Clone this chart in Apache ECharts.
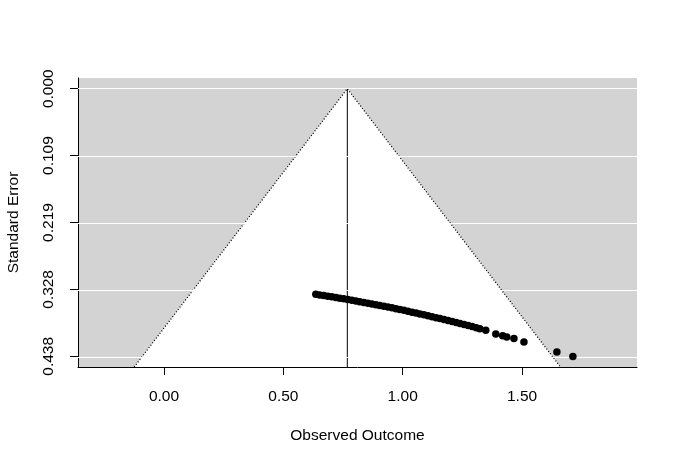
<!doctype html>
<html>
<head>
<meta charset="utf-8">
<title>Funnel Plot</title>
<script src="https://cdn.jsdelivr.net/npm/echarts@6/dist/echarts.min.js"></script>
<style>
  html, body { margin: 0; padding: 0; background: #fff; }
  #main { width: 678px; height: 465px; }
</style>
</head>
<body>
<div id="main"></div>
<script>
// observed outcomes (x) and their standard errors (y)
var obsX = [0.636, 0.652, 0.669, 0.686, 0.703, 0.720, 0.736, 0.753, 0.770, 0.787,
            0.804, 0.820, 0.837, 0.854, 0.871, 0.888, 0.904, 0.921, 0.938, 0.955,
            0.972, 0.988, 1.005, 1.022, 1.039, 1.056, 1.072, 1.089, 1.106, 1.123,
            1.140, 1.156, 1.173, 1.190, 1.207, 1.224, 1.240, 1.257, 1.274, 1.291,
            1.308, 1.323, 1.348, 1.390, 1.419, 1.436, 1.466, 1.508, 1.646, 1.713];
var obsSE = [0.3366, 0.3376, 0.3386, 0.3397, 0.3407, 0.3418, 0.3429, 0.3440, 0.3451, 0.3462,
             0.3474, 0.3486, 0.3498, 0.3510, 0.3522, 0.3535, 0.3548, 0.3561, 0.3574, 0.3587,
             0.3601, 0.3614, 0.3628, 0.3642, 0.3657, 0.3671, 0.3686, 0.3701, 0.3716, 0.3731,
             0.3747, 0.3762, 0.3778, 0.3794, 0.3810, 0.3827, 0.3843, 0.3860, 0.3877, 0.3894,
             0.3911, 0.3930, 0.3955, 0.4016, 0.4043, 0.4062, 0.4090, 0.4145, 0.4308, 0.4384];

// pooled estimate and funnel limits at the bottom of the plot
var estimate = 0.768;
var seBottom = 0.4555;
var funnelLow = -0.125;
var funnelHigh = 1.661;

// axis ticks
var xTicks = [0, 0.5, 1, 1.5];
var xTickLabels = ['0.00', '0.50', '1.00', '1.50'];
var yTicks = [0, 0.1095, 0.219, 0.3285, 0.438];
var yTickLabels = ['0.000', '0.109', '0.219', '0.328', '0.438'];

var points = [];
for (var i = 0; i < obsX.length; i++) {
    points.push([obsX[i], obsSE[i]]);
}

var funnelTri = [[estimate, 0], [funnelLow, seBottom], [funnelHigh, seBottom]];

var font = 'Liberation Sans, Arial, sans-serif';
var myChart = echarts.init(document.getElementById('main'), null, {renderer: 'canvas'});

var option = {
    animation: false,
    backgroundColor: '#fff',
    grid: {
        left: 78, top: 78, right: 41, bottom: 98,
        outerBoundsMode: 'none',
        containLabel: false,
        show: true, backgroundColor: '#d3d3d3', borderWidth: 0
    },
    xAxis: {
        type: 'value',
        min: -0.3603, max: 1.9816,
        name: 'Observed Outcome',
        nameLocation: 'middle',
        nameGap: 61,
        nameTextStyle: {color: '#000', fontSize: 15.5, fontFamily: font},
        axisLine: {show: true, onZero: false, lineStyle: {color: '#000', width: 1}},
        axisTick: {show: true, length: 8, customValues: xTicks, lineStyle: {color: '#000'}},
        axisLabel: {
            color: '#000', fontSize: 15.5, fontFamily: font, margin: 22,
            customValues: xTicks,
            formatter: function (v) {
                var k = xTicks.indexOf(v);
                return k >= 0 ? xTickLabels[k] : '';
            }
        },
        splitLine: {show: false}
    },
    yAxis: {
        type: 'value',
        inverse: true,
        min: -0.0175, max: seBottom,
        name: 'Standard Error',
        nameLocation: 'middle',
        nameGap: 56,
        nameRotate: 90,
        nameTextStyle: {color: '#000', fontSize: 15.5, fontFamily: font},
        axisLine: {show: true, onZero: false, lineStyle: {color: '#000', width: 1}},
        axisTick: {show: true, length: 8, customValues: yTicks, lineStyle: {color: '#000'}},
        axisLabel: {
            color: '#000', fontSize: 15.5, fontFamily: font, margin: 21, rotate: 90,
            customValues: yTicks,
            formatter: function (v) {
                var k = yTicks.indexOf(v);
                return k >= 0 ? yTickLabels[k] : '';
            }
        },
        splitLine: {show: false}
    },
    series: [
        { // white grid lines at each y tick
            type: 'line',
            data: [],
            markLine: {
                silent: true,
                symbol: 'none',
                label: {show: false},
                lineStyle: {color: '#fff', type: 'solid', width: 1},
                data: yTicks.map(function (v) { return {yAxis: v}; })
            }
        },
        { // white funnel region
            type: 'custom',
            data: [0],
            clip: true,
            renderItem: function (params, api) {
                return {
                    type: 'polygon',
                    shape: {points: funnelTri.map(function (p) { return api.coord(p); })},
                    style: {fill: '#fff'}
                };
            },
            z: 3
        },
        { // funnel limits
            type: 'line',
            data: [[funnelLow, seBottom], [estimate, 0], [funnelHigh, seBottom]],
            symbol: 'none',
            lineStyle: {color: '#000', width: 1.3, type: [1, 2]},
            z: 4
        },
        { // pooled estimate
            type: 'line',
            data: [[estimate, 0], [estimate, seBottom]],
            symbol: 'none',
            lineStyle: {color: '#000', width: 1},
            z: 4
        },
        {
            type: 'scatter',
            data: points,
            symbol: 'circle',
            symbolSize: 7.5,
            itemStyle: {color: '#000', opacity: 1},
            z: 5
        }
    ]
};

myChart.setOption(option);
</script>
</body>
</html>
